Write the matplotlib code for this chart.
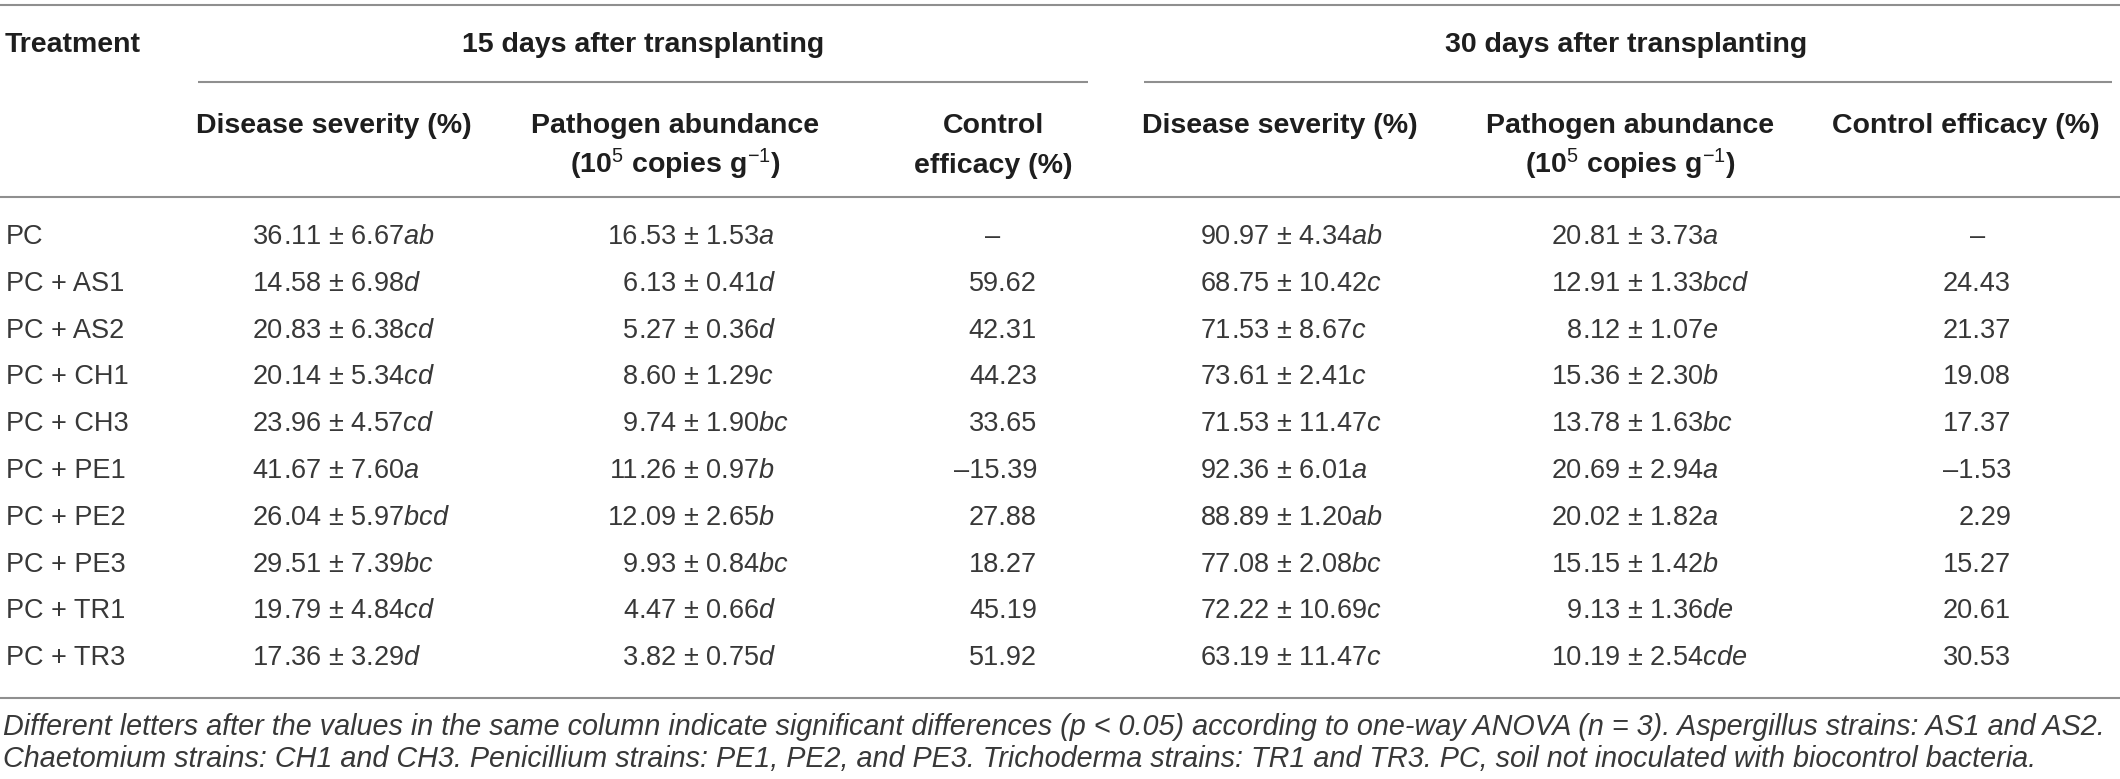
import matplotlib
matplotlib.use('Agg')
import matplotlib.pyplot as plt

plt.rcParams['font.family'] = ['Liberation Sans', 'DejaVu Sans']
plt.rcParams['mathtext.fontset'] = 'custom'
plt.rcParams['mathtext.rm'] = 'Liberation Sans'
plt.rcParams['mathtext.it'] = 'Liberation Sans:italic'
plt.rcParams['mathtext.bf'] = 'Liberation Sans:bold'

# ---------------- data ----------------
treatments = ["PC", "PC + AS1", "PC + AS2", "PC + CH1", "PC + CH3",
              "PC + PE1", "PC + PE2", "PC + PE3", "PC + TR1", "PC + TR3"]

ds15_mean = [36.11, 14.58, 20.83, 20.14, 23.96, 41.67, 26.04, 29.51, 19.79, 17.36]
ds15_sd = [6.67, 6.98, 6.38, 5.34, 4.57, 7.60, 5.97, 7.39, 4.84, 3.29]
ds15_grp = ["ab", "d", "cd", "cd", "cd", "a", "bcd", "bc", "cd", "d"]

pa15_mean = [16.53, 6.13, 5.27, 8.60, 9.74, 11.26, 12.09, 9.93, 4.47, 3.82]
pa15_sd = [1.53, 0.41, 0.36, 1.29, 1.90, 0.97, 2.65, 0.84, 0.66, 0.75]
pa15_grp = ["a", "d", "d", "c", "bc", "b", "b", "bc", "d", "d"]

ce15 = [None, 59.62, 42.31, 44.23, 33.65, -15.39, 27.88, 18.27, 45.19, 51.92]

ds30_mean = [90.97, 68.75, 71.53, 73.61, 71.53, 92.36, 88.89, 77.08, 72.22, 63.19]
ds30_sd = [4.34, 10.42, 8.67, 2.41, 11.47, 6.01, 1.20, 2.08, 10.69, 11.47]
ds30_grp = ["ab", "c", "c", "c", "c", "a", "ab", "bc", "c", "c"]

pa30_mean = [20.81, 12.91, 8.12, 15.36, 13.78, 20.69, 20.02, 15.15, 9.13, 10.19]
pa30_sd = [3.73, 1.33, 1.07, 2.30, 1.63, 2.94, 1.82, 1.42, 1.36, 2.54]
pa30_grp = ["a", "bcd", "e", "b", "bc", "a", "a", "b", "de", "cde"]

ce30 = [None, 24.43, 21.37, 19.08, 17.37, -1.53, 2.29, 15.27, 20.61, 30.53]

group_headers = ["15 days after transplanting", "30 days after transplanting"]
col_headers = [["Disease severity (%)"],
               ["Pathogen abundance", r"(10$^{5}$ copies g$^{-1}$)"],
               ["Control", "efficacy (%)"],
               ["Disease severity (%)"],
               ["Pathogen abundance", r"(10$^{5}$ copies g$^{-1}$)"],
               ["Control efficacy (%)"]]
footnotes = [
    "Different letters after the values in the same column indicate significant differences (p < 0.05) "
    "according to one-way ANOVA (n = 3). Aspergillus strains: AS1 and AS2.",
    "Chaetomium strains: CH1 and CH3. Penicillium strains: PE1, PE2, and PE3. Trichoderma strains: "
    "TR1 and TR3. PC, soil not inoculated with biocontrol bacteria.",
]

# ---------------- layout ----------------
W, H = 2120, 779
fig = plt.figure(figsize=(W / 100, H / 100), dpi=100)
ax = fig.add_axes([0, 0, 1, 1])
ax.set_xlim(0, W)
ax.set_ylim(H, 0)
ax.axis('off')

HEAD_C = '#1e1e1e'
BODY_C = '#383838'
LINE_C = '#8f8f8f'
FS_H = 20.5
FS_B = 19.5
BL = 10  # baseline offset from visual centre

def hline(x0, x1, y):
    ax.plot([x0, x1], [y, y], color=LINE_C, lw=1.5, solid_capstyle='butt')

hline(0, W, 5)
hline(198, 1088, 82)
hline(1144, 2112, 82)
hline(0, W, 197)
hline(0, W, 698)

# header texts
ax.text(5, 42 + BL, "Treatment", ha='left', va='baseline', fontsize=FS_H,
        fontweight='bold', color=HEAD_C)
ax.text(643, 42 + BL, group_headers[0], ha='center', va='baseline', fontsize=FS_H,
        fontweight='bold', color=HEAD_C)
ax.text(1626, 42 + BL, group_headers[1], ha='center', va='baseline', fontsize=FS_H,
        fontweight='bold', color=HEAD_C)

col_centres = [334, 675, 993, 1280, 1630, 1966]
for cx, lines in zip(col_centres, col_headers):
    for k, s in enumerate(lines):
        ax.text(cx, 123 + 40 * k + BL, s, ha='center', va='baseline', fontsize=FS_H,
                fontweight='bold', color=HEAD_C)

# body
row_y0, row_dy = 234, 46.8

def val_cell(x_dec, y, m, sd, g):
    s = f"{m:.2f} \u00b1 {sd:.2f}"
    i = s.index('.')
    ax.text(x_dec, y + BL, s[:i], ha='right', va='baseline', fontsize=FS_B, color=BODY_C)
    ax.text(x_dec, y + BL, s[i:] + r"$\mathit{" + g + "}$", ha='left', va='baseline',
            fontsize=FS_B, color=BODY_C)

def eff_cell(x_right, x_c, y, v):
    if v is None:
        ax.text(x_c, y + BL, "\u2013", ha='center', va='baseline', fontsize=FS_B, color=BODY_C)
    else:
        s = f"{v:.2f}" if v >= 0 else f"\u2013{abs(v):.2f}"
        ax.text(x_right, y + BL, s, ha='right', va='baseline', fontsize=FS_B, color=BODY_C)

for r, name in enumerate(treatments):
    y = row_y0 + r * row_dy
    ax.text(6, y + BL, name, ha='left', va='baseline', fontsize=FS_B, color=BODY_C)
    val_cell(283, y, ds15_mean[r], ds15_sd[r], ds15_grp[r])
    val_cell(638, y, pa15_mean[r], pa15_sd[r], pa15_grp[r])
    eff_cell(1037, 993, y, ce15[r])
    val_cell(1231, y, ds30_mean[r], ds30_sd[r], ds30_grp[r])
    val_cell(1582, y, pa30_mean[r], pa30_sd[r], pa30_grp[r])
    eff_cell(2011, 1978, y, ce30[r])

# footnotes (italic), sized so that the first line spans the table width
fn_texts = []
for k, s in enumerate(footnotes):
    t = ax.text(3, 727 + 32 * k + 8, s, ha='left', va='baseline', fontsize=18,
                fontstyle='italic', color=BODY_C)
    fn_texts.append(t)
fig.canvas.draw()
w0 = fn_texts[0].get_window_extent().width
fs = 18 * 2098 / w0
for t in fn_texts:
    t.set_fontsize(fs)

fig.savefig('out.png', dpi=100, facecolor='white')
